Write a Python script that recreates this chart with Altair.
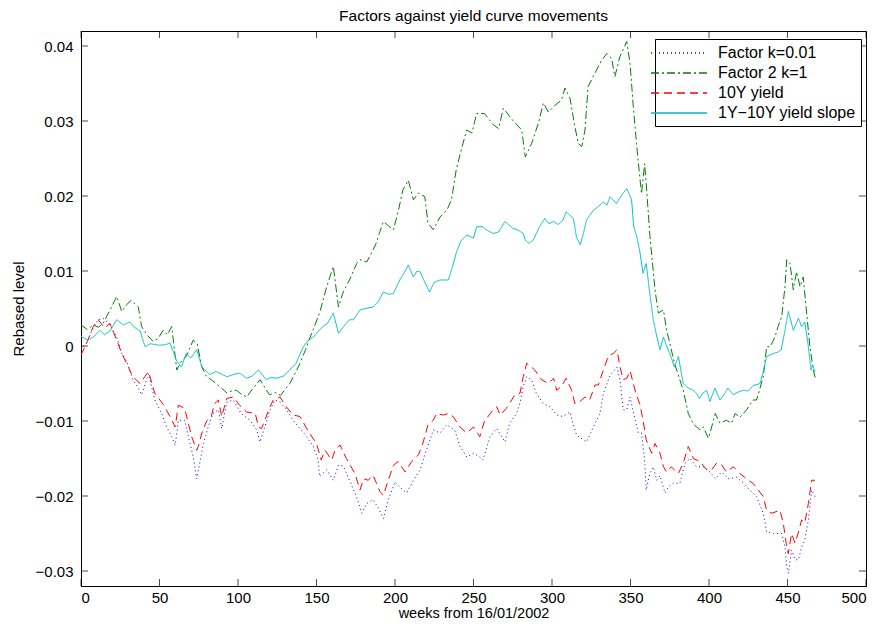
import altair as alt
import pandas as pd

# ---------------- data ----------------
series_names = ["Factor k=0.01", "Factor 2 k=1", "10Y yield", "1Y\u221210Y yield slope"]

blue_weeks = [0, 4, 7.8, 11, 14, 18, 22.7, 26, 29, 33, 36, 38.6, 43, 47, 51.4, 54.6, 57.8, 60, 62, 66,
              69.4, 71.5, 73.7, 75.8, 78, 81, 84, 87.5, 89.6, 92.8, 97, 102, 107.6, 112, 114, 117, 120.4,
              123.6, 127, 131, 135, 139.5, 143.7, 148, 151, 152, 156.5, 160.7, 164, 167, 171, 174.5,
              177.7, 178.8, 182, 186, 189.4, 192.6, 195.7, 200, 203, 207.4, 211.7, 216, 220, 224.4,
              228.7, 233, 238, 241.4, 245.7, 250, 254, 256, 260.5, 264.8, 270, 273, 277.5, 279.6,
              281.7, 283.9, 287, 290, 294.5, 298.7, 303, 307, 311.5, 313.6, 315.7, 322, 326.3, 330.6,
              332.7, 337, 341.4, 343.3, 345.4, 347.6, 349.7, 353, 355, 357, 359, 360, 362.4, 364.5,
              366.7, 368.8, 372, 374, 377.3, 381.5, 384.7, 388, 392, 396.4, 400.6, 404, 408, 412.3,
              417.6, 422, 426, 430.3, 434.6, 436.7, 441, 446.3, 448.4, 449.5, 450.6, 452.6, 454.8,
              457, 459, 461, 463.3, 465.4, 467.5]
blue_values = [-0.0005, 0.0005, 0.0025, 0.0035, 0.0037, 0.003, 0.0012, -0.001, -0.002, -0.0045, -0.0054,
               -0.0065, -0.0037, -0.0072, -0.009, -0.0108, -0.0121, -0.0132, -0.0099, -0.0099, -0.013,
               -0.0148, -0.0177, -0.0154, -0.013, -0.0108, -0.009, -0.0085, -0.011, -0.0075, -0.0072,
               -0.009, -0.0099, -0.0112, -0.0128, -0.0108, -0.0085, -0.0072, -0.0075, -0.0085, -0.0099,
               -0.011, -0.0121, -0.0134, -0.0152, -0.0174, -0.0165, -0.0179, -0.0159, -0.016, -0.0179,
               -0.0196, -0.0214, -0.0223, -0.021, -0.0205, -0.0216, -0.023, -0.0205, -0.0181, -0.0188,
               -0.0196, -0.0179, -0.0165, -0.0139, -0.0112, -0.0116, -0.0105, -0.0112, -0.0134, -0.0148,
               -0.0143, -0.0148, -0.0152, -0.0121, -0.011, -0.0128, -0.0103, -0.009, -0.0076, -0.0054,
               -0.0041, -0.0045, -0.0063, -0.0077, -0.0081, -0.0092, -0.0094, -0.0088, -0.0105, -0.0119,
               -0.0128, -0.0108, -0.009, -0.0063, -0.0039, -0.0028, -0.0045, -0.0085, -0.0085, -0.0068,
               -0.0099, -0.0116, -0.0116, -0.0152, -0.0192, -0.017, -0.0161, -0.0179, -0.0173, -0.0196,
               -0.0188, -0.0183, -0.0183, -0.0156, -0.015, -0.0161, -0.0161, -0.0168, -0.0177, -0.0168,
               -0.0177, -0.0175, -0.0183, -0.0192, -0.0201, -0.0223, -0.0248, -0.025, -0.025, -0.0268,
               -0.0294, -0.0303, -0.0272, -0.0285, -0.0285, -0.0268, -0.0259, -0.0232, -0.0192, -0.0201]

green_weeks = [0, 4, 7.8, 11, 14, 18.5, 22.7, 26, 29, 32, 36.5, 38.6, 42, 46, 49, 52.4, 55, 57.8, 61, 64,
               67, 71.5, 74, 77, 80, 83, 86, 89, 93, 96, 99, 102, 105.5, 109, 114, 117, 120, 124, 127,
               130, 133, 136, 139.5, 143, 146, 149, 152, 156.5, 160.7, 164, 167, 171, 175.6, 177.7, 182,
               186, 188, 190, 192.6, 196, 199, 202, 205, 208.5, 211.7, 215, 219, 221, 224.4, 228.7, 233,
               236, 239, 242.5, 245.7, 249, 252, 257, 262.6, 266, 269, 275, 280.7, 283, 287, 291.3,
               294.5, 297.7, 302, 306, 308.3, 311.5, 314.6, 316.8, 319, 321, 323, 327.4, 331.6, 335,
               338, 340, 343.3, 347.6, 349.7, 351.8, 354, 357, 359, 360, 362.4, 365.6, 367.7, 371, 373,
               375, 378, 383.6, 386.8, 390, 394.3, 396.4, 399.6, 401.7, 404, 407, 411, 414.4, 416.6,
               419.7, 424, 428, 430.3, 434.6, 436.7, 439, 442, 444, 446.3, 448.4, 449.5, 451.6, 453.7,
               455.8, 458, 460, 462, 464.3, 466.4, 468]
green_values = [0.0028, 0.0022, 0.0028, 0.0025, 0.003, 0.0048, 0.0066, 0.0046, 0.0055, 0.0061, 0.0052,
                0.0026, 0.0015, 0.0006, 0.001, 0.0021, 0.0015, 0.0026, -0.0032, -0.002, -0.0014, 0.0008,
                0.0003, -0.0028, -0.0041, -0.0045, -0.005, -0.0055, -0.0063, -0.006, -0.0059, -0.0064,
                -0.0068, -0.0058, -0.0045, -0.0055, -0.0065, -0.0062, -0.0066, -0.0058, -0.005, -0.0038,
                -0.0023, -0.0005, 0.0012, 0.0028, 0.0044, 0.0079, 0.0106, 0.0052, 0.0072, 0.0088, 0.011,
                0.0115, 0.0112, 0.0128, 0.0137, 0.015, 0.0166, 0.016, 0.0155, 0.0179, 0.0208, 0.0221,
                0.0195, 0.0204, 0.0199, 0.0164, 0.0155, 0.0172, 0.0181, 0.0195, 0.0235, 0.0264, 0.0288,
                0.0284, 0.031, 0.031, 0.0295, 0.029, 0.0317, 0.0301, 0.0288, 0.0252, 0.027, 0.0297,
                0.0324, 0.0312, 0.0321, 0.0328, 0.0344, 0.033, 0.0292, 0.027, 0.0266, 0.0288, 0.0346,
                0.0364, 0.0381, 0.039, 0.0383, 0.0359, 0.0386, 0.0406, 0.0377, 0.0319, 0.0266, 0.0203,
                0.0243, 0.0217, 0.0146, 0.0075, 0.0044, 0.0048, 0.0021, 0.0004, -0.0023, -0.0059,
                -0.009, -0.0104, -0.0112, -0.0108, -0.0123, -0.0108, -0.009, -0.0103, -0.0099, -0.0103,
                -0.009, -0.0095, -0.0085, -0.0072, -0.0072, -0.0041, -0.0001, -0.0001, 0.0012, 0.0026,
                0.0039, 0.0079, 0.0115, 0.011, 0.0075, 0.0099, 0.0079, 0.0092, 0.0048, -0.0001, -0.0032,
                -0.0045]

red_weeks = [0, 3.6, 7.8, 11, 15, 18.5, 22.7, 26, 29, 33, 37.6, 43, 47, 52.4, 56.7, 60, 62, 66, 70.5,
             73.7, 74.7, 77, 80, 83, 85, 87.5, 89.6, 92.8, 97, 101, 105.5, 111, 113, 115, 120.4, 122.5,
             126.8, 130, 135, 139.5, 144.8, 150, 153, 155.4, 159.7, 161.8, 165, 169, 174.5, 177.7, 180,
             183, 186, 190.4, 192.6, 195.7, 199, 202, 206.4, 210.6, 215, 218, 221, 224.4, 226.5, 230.8,
             234, 237, 241.4, 245.7, 250, 254, 257, 262.6, 264.8, 267, 271, 276.4, 279.6, 281.7, 283.9,
             287, 289, 293.4, 297.7, 301, 303, 306, 309, 312.5, 314.6, 317.8, 321, 324, 327.4, 329.5,
             332.7, 336, 339, 341.4, 343.3, 345.4, 347.6, 349.7, 351.8, 353, 356, 358, 360, 363.5,
             365.6, 368.8, 371, 373, 376, 378.3, 380.5, 383.6, 386.8, 390, 394.3, 398.5, 401.7, 404.9,
             408, 411, 415.5, 419.7, 425, 428, 431.4, 434.6, 436.7, 440, 445.2, 447.3, 449.5, 450.5,
             452.6, 454.8, 457, 459, 461, 463.3, 465.4, 467.5]
red_values = [-0.0012, 0.0004, 0.0026, 0.0035, 0.0024, 0.003, 0.0008, -0.001, -0.0023, -0.0041, -0.005,
              -0.0034, -0.0063, -0.0078, -0.0094, -0.0108, -0.0079, -0.0083, -0.0121, -0.0139, -0.0134,
              -0.0116, -0.01, -0.0094, -0.0077, -0.0072, -0.0094, -0.007, -0.0068, -0.0079, -0.0088,
              -0.009, -0.0108, -0.011, -0.0081, -0.0072, -0.0068, -0.0079, -0.0092, -0.0094, -0.0114,
              -0.013, -0.0152, -0.0139, -0.0152, -0.0139, -0.0132, -0.015, -0.017, -0.0192, -0.0177,
              -0.0179, -0.0172, -0.0194, -0.0199, -0.0179, -0.0159, -0.0154, -0.0168, -0.0154, -0.0145,
              -0.0128, -0.0105, -0.0099, -0.009, -0.0092, -0.009, -0.0094, -0.0108, -0.0116, -0.0108,
              -0.0121, -0.01, -0.0085, -0.0081, -0.0092, -0.0083, -0.0065, -0.0063, -0.0041, -0.0023,
              -0.0028, -0.0032, -0.0045, -0.005, -0.0043, -0.0059, -0.0054, -0.0043, -0.0059, -0.0077,
              -0.0074, -0.0068, -0.0072, -0.0052, -0.0052, -0.0032, -0.0013, -0.001, -0.0005, -0.0028,
              -0.0045, -0.0043, -0.0033, -0.005, -0.006, -0.0078, -0.0099, -0.0125, -0.0143, -0.013,
              -0.0143, -0.0161, -0.0168, -0.0161, -0.0166, -0.017, -0.0156, -0.0134, -0.015, -0.0154,
              -0.0165, -0.0165, -0.0156, -0.0158, -0.0168, -0.0161, -0.017, -0.0179, -0.0183, -0.0192,
              -0.0201, -0.0219, -0.0223, -0.0219, -0.0236, -0.0268, -0.0277, -0.025, -0.0263, -0.0248,
              -0.0232, -0.0236, -0.021, -0.0179, -0.0179]

cyan_weeks = [0, 4, 8, 12, 15, 18.5, 22.7, 27, 31, 34, 37.6, 40.8, 44, 50, 54, 56.7, 61, 64, 67, 70,
              73.7, 77, 79, 82, 86, 90, 93, 97, 101, 105.5, 109, 113, 118, 121, 124.6, 129, 133, 137,
              141.6, 145, 148, 154, 157, 160.7, 164, 168, 171, 173.5, 177.7, 181, 186, 189, 192.6, 196,
              199, 203, 206, 208.5, 211.7, 214, 216, 219, 222, 225, 228.7, 234, 236.5, 239, 242, 245.7,
              250, 252, 256, 258, 262.6, 266, 270, 275, 278, 281.7, 283, 285.5, 288, 292, 295.5, 298,
              301, 304, 307, 309, 311, 313.6, 315.7, 318, 320, 322, 326.3, 329, 332.7, 335, 337, 341,
              344, 347.6, 350.7, 352, 354, 356, 358, 360, 362, 364.5, 366.5, 368.8, 371, 373, 375, 378,
              380.5, 383.6, 386.8, 390, 392, 394, 396, 398.5, 400.6, 403.8, 407, 409.5, 412, 415.5, 419,
              422, 425, 428, 432.5, 434.6, 436.7, 441, 444, 446, 448.4, 450.5, 452, 453.7, 457, 459,
              461, 463, 465, 466, 467.5]
cyan_values = [0.0013, 0.0008, 0.0012, 0.0021, 0.0015, 0.002, 0.0035, 0.0028, 0.0032, 0.0025, 0.002,
               -0.0001, 0.0003, 0.0001, 0.0002, 0.0004, -0.002, -0.0028, -0.001, -0.0016, -0.0005,
               -0.0028, -0.0032, -0.0038, -0.0034, -0.0038, -0.0041, -0.0038, -0.0036, -0.0043, -0.004,
               -0.0032, -0.0045, -0.0042, -0.0043, -0.004, -0.0032, -0.0023, -0.0001, 0.0008, 0.0012,
               0.0026, 0.003, 0.0044, 0.0017, 0.0028, 0.0035, 0.0035, 0.0048, 0.005, 0.0052, 0.0058,
               0.0072, 0.0069, 0.007, 0.0088, 0.0098, 0.0108, 0.0092, 0.01, 0.0099, 0.0085, 0.0072,
               0.0085, 0.0088, 0.0088, 0.0105, 0.0124, 0.014, 0.0148, 0.0144, 0.0159, 0.0159, 0.0155,
               0.015, 0.0152, 0.0166, 0.0157, 0.0155, 0.015, 0.0141, 0.0137, 0.0141, 0.0159, 0.017,
               0.0163, 0.0166, 0.0162, 0.0168, 0.0179, 0.0175, 0.017, 0.0144, 0.0135, 0.015, 0.0168,
               0.0181, 0.0185, 0.0192, 0.0188, 0.0199, 0.019, 0.02, 0.021, 0.0195, 0.016, 0.0146, 0.0125,
               0.0097, 0.011, 0.0075, 0.0035, 0.0015, -0.0005, 0.0012, 0.0, -0.001, -0.0028, -0.0014,
               -0.005, -0.0056, -0.0059, -0.0063, -0.007, -0.0063, -0.0059, -0.0074, -0.0056, -0.0072,
               -0.0065, -0.0056, -0.0065, -0.0061, -0.0059, -0.006, -0.0053, -0.005, -0.0034, -0.0014,
               -0.001, -0.0008, -0.0005, 0.0021, 0.0046, 0.0035, 0.0021, 0.0037, 0.0026, 0.0032,
               0.0004, -0.0032, -0.0025, -0.0034]

x_ticks = [0, 50, 100, 150, 200, 250, 300, 350, 400, 450, 500]
y_ticks = [-0.03, -0.02, -0.01, 0, 0.01, 0.02, 0.03, 0.04]

# ---------------- styling ----------------
colors = ["#0000ff", "#008000", "#ff0000", "#00bfbf"]
dashes = [[1, 3], [8, 3, 2, 3], [8, 5], [1, 0]]
FONT = "Liberation Sans"
W, H = 785, 555

rows = []
for name, wk, vals in zip(series_names,
                          [blue_weeks, green_weeks, red_weeks, cyan_weeks],
                          [blue_values, green_values, red_values, cyan_values]):
    for i, (w, v) in enumerate(zip(wk, vals)):
        rows.append({"series": name, "week": w, "value": v, "order": i})
df = pd.DataFrame(rows)

x_scale = alt.Scale(domain=[0, 500], nice=False, zero=False)
y_scale = alt.Scale(domain=[-0.032, 0.042], nice=False, zero=False)

legend_cfg = dict(title=None, orient="none", legendX=574, legendY=8,
                  symbolType="M-3,0H4", symbolSize=256, symbolOffset=6,
                  symbolStrokeWidth=1.5, labelFontSize=16, labelFont=FONT,
                  labelOffset=34, rowPadding=3, padding=5,
                  strokeColor="black", fillColor="white", labelLimit=300)

lines = alt.Chart(df).mark_line(strokeWidth=1, clip=True).encode(
    x=alt.X("week:Q", scale=x_scale,
            axis=alt.Axis(values=x_ticks, title="weeks from 16/01/2002", ticks=False,
                          labelPadding=4, titlePadding=1.5, titleFontSize=14.5,
                          grid=False, format="d")),
    y=alt.Y("value:Q", scale=y_scale,
            axis=alt.Axis(values=y_ticks, title="Rebased level", ticks=False, format="~g",
                          labelPadding=8, titlePadding=9, grid=False)),
    color=alt.Color("series:N", scale=alt.Scale(domain=series_names, range=colors),
                    legend=alt.Legend(**legend_cfg)),
    strokeDash=alt.StrokeDash("series:N", scale=alt.Scale(domain=series_names, range=dashes),
                              legend=alt.Legend(**legend_cfg)),
    order="order:Q",
)

xt = pd.DataFrame({"week": x_ticks})
yt = pd.DataFrame({"value": y_ticks})

xtick_bottom = alt.Chart(xt).mark_tick(orient="vertical", color="black", thickness=1, size=7).encode(
    x=alt.X("week:Q", scale=x_scale), y=alt.value(H - 3.5))
xtick_top = alt.Chart(xt).mark_tick(orient="vertical", color="black", thickness=1, size=7).encode(
    x=alt.X("week:Q", scale=x_scale), y=alt.value(3.5))
ytick_left = alt.Chart(yt).mark_tick(orient="horizontal", color="black", thickness=1, size=7).encode(
    y=alt.Y("value:Q", scale=y_scale), x=alt.value(3.5))
ytick_right = alt.Chart(yt).mark_tick(orient="horizontal", color="black", thickness=1, size=7).encode(
    y=alt.Y("value:Q", scale=y_scale), x=alt.value(W - 3.5))

chart = alt.layer(lines, xtick_bottom, xtick_top, ytick_left, ytick_right).properties(
    width=W, height=H,
    background="white",
    title=alt.Title("Factors against yield curve movements", fontSize=15.5, font=FONT,
                    fontWeight="normal", offset=7, anchor="middle", color="black"),
    autosize=alt.AutoSizeParams(type="none"),
    padding={"left": 73, "top": 23, "right": 8, "bottom": 35},
).configure_view(stroke="black", strokeWidth=1).configure_axis(
    domainColor="black", labelColor="black", titleColor="black", labelFont=FONT,
    titleFont=FONT, labelFontSize=15, titleFontSize=15, titleFontWeight="normal",
)

chart.save("out.html", embed_options={"renderer": "svg", "actions": False})
